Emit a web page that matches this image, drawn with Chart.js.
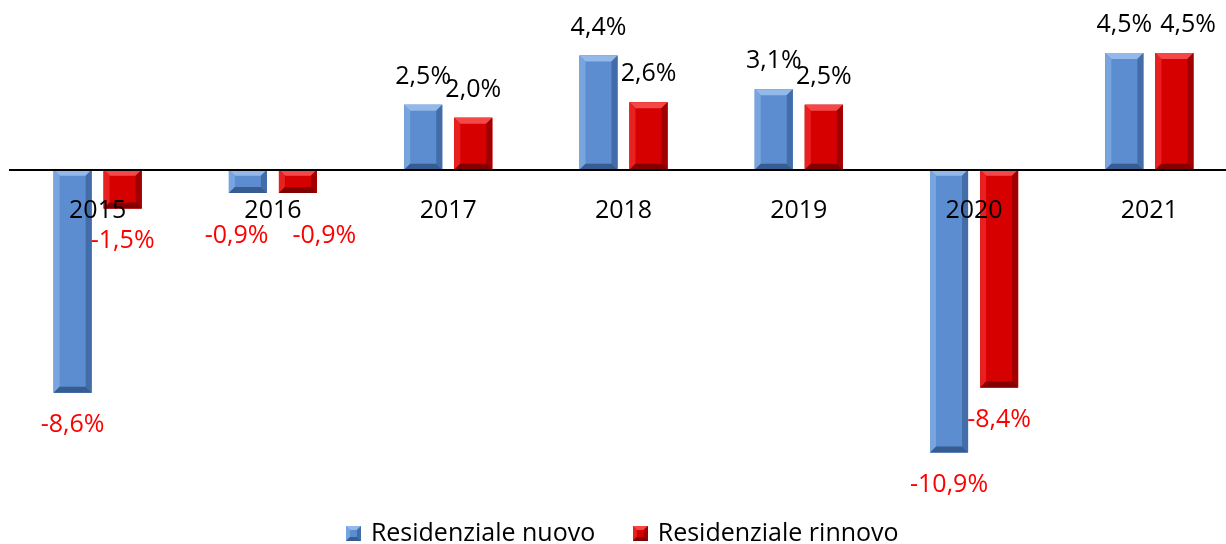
<!DOCTYPE html>
<html>
<head>
<meta charset="utf-8">
<script src="https://cdn.jsdelivr.net/npm/chart.js@4/dist/chart.umd.min.js"></script>
<style>
  html, body { margin: 0; padding: 0; background: #fff; overflow: hidden; }
  #wrap { width: 1226px; height: 544px; overflow: hidden; }
</style>
</head>
<body>
<div id="wrap"><canvas id="chart" width="1260" height="544"></canvas></div>
<script>
// chart data
const years = ['2015', '2016', '2017', '2018', '2019', '2020', '2021'];
const nuovo = [-8.6, -0.9, 2.5, 4.4, 3.1, -10.9, 4.5];
const rinnovo = [-1.5, -0.9, 2.0, 2.6, 2.5, -8.4, 4.5];
const seriesNames = ['Residenziale nuovo', 'Residenziale rinnovo'];

const FONT = '"Open Sans", "Noto Sans", sans-serif';

// colours for the bevelled bars: face, top, left, right, bottom
const blueTones = ['#5b8dd0', '#92b9e9', '#79a5de', '#426da8', '#365c92'];
const redTones = ['#d60000', '#f44848', '#e82020', '#a00000', '#820000'];

function fmt(v){
    return v.toFixed(1).replace('.', ',') + '%';
}

// small bevelled square used as legend marker
function legendBox(tones){
    const s = 15, b = 4;
    const c = document.createElement('canvas');
    c.width = s; c.height = s;
    const g = c.getContext('2d');
    bevel(g, 0, 0, s, s, b, tones);
    return c;
}

function poly(ctx, pts, color){
    ctx.beginPath();
    ctx.moveTo(pts[0][0], pts[0][1]);
    for (let i = 1; i < pts.length; i++) ctx.lineTo(pts[i][0], pts[i][1]);
    ctx.closePath();
    ctx.fillStyle = color;
    ctx.fill();
}

function bevel(ctx, l, t, r, bt, b, tones){
    poly(ctx, [[l,t],[r,t],[r,bt],[l,bt]], tones[0]);
    poly(ctx, [[l,t],[r,t],[r-b,t+b],[l+b,t+b]], tones[1]);
    poly(ctx, [[l,t],[l+b,t+b],[l+b,bt-b],[l,bt]], tones[2]);
    poly(ctx, [[r,t],[r,bt],[r-b,bt-b],[r-b,t+b]], tones[3]);
    poly(ctx, [[l,bt],[l+b,bt-b],[r-b,bt-b],[r,bt]], tones[4]);
}

// draws the bevel on top of each bar
const bevelBars = {
    id: 'bevelBars',
    afterDatasetsDraw(chart){
        const ctx = chart.ctx;
        ctx.save();
        chart.data.datasets.forEach((ds, i) => {
            const tones = i == 0 ? blueTones : redTones;
            chart.getDatasetMeta(i).data.forEach(bar => {
                const p = bar.getProps(['x', 'y', 'base', 'width'], true);
                const l = p.x - p.width / 2, r = p.x + p.width / 2;
                const t = Math.min(p.y, p.base), bt = Math.max(p.y, p.base);
                const b = Math.min(6, (bt - t) / 2);
                bevel(ctx, l, t, r, bt, b, tones);
            });
        });
        ctx.restore();
    }
};

// value labels: black above positive bars, red below negative ones
const valueLabels = {
    id: 'valueLabels',
    afterDraw(chart){
        const ctx = chart.ctx;
        const zero = chart.scales.y.getPixelForValue(0);
        ctx.save();
        ctx.font = '25px ' + FONT;
        ctx.textAlign = 'center';
        ctx.textBaseline = 'middle';
        const labels = [];
        chart.data.datasets.forEach((ds, i) => {
            chart.getDatasetMeta(i).data.forEach((bar, j) => {
                const p = bar.getProps(['x', 'y', 'base'], true);
                const v = ds.data[j];
                const text = fmt(v);
                let y;
                if (v >= 0) y = p.y - 28;
                else y = Math.max(p.y + 32, zero + 66);
                labels.push({ i, j, x: p.x, y, text, v, w: ctx.measureText(text).width });
            });
        });
        // push apart overlapping labels in the same year
        years.forEach((yr, j) => {
            const a = labels.find(o => o.i == 0 && o.j == j);
            const b = labels.find(o => o.i == 1 && o.j == j);
            if (a.v < 0 && b.v < 0 && Math.abs(a.y - b.y) < 24) {
                const need = (a.w + b.w) / 2 + 24 - (b.x - a.x);
                if (need > 0) { a.x -= need * 0.3; b.x += need * 0.7; }
            } else if (a.v >= 0 && b.v >= 0 && Math.abs(a.y - b.y) < 8) {
                const need = (a.w + b.w) / 2 + 8 - (b.x - a.x);
                if (need > 0) b.x += need;
            }
        });
        labels.forEach(o => {
            ctx.fillStyle = o.v < 0 ? '#ff0000' : '#000000';
            ctx.fillText(o.text, o.x, o.y);
        });
        ctx.restore();
    }
};

new Chart(document.getElementById('chart'), {
    type: 'bar',
    data: {
        labels: years,
        datasets: [
            {
                label: seriesNames[0],
                data: nuovo,
                backgroundColor: blueTones[0],
                pointStyle: legendBox(blueTones)
            },
            {
                label: seriesNames[1],
                data: rinnovo,
                backgroundColor: redTones[0],
                pointStyle: legendBox(redTones)
            }
        ]
    },
    options: {
        responsive: false,
        animation: false,
        categoryPercentage: 0.571,
        barPercentage: 0.76,
        layout: { padding: { left: 10, right: 23, top: 14, bottom: -12 } },
        scales: {
            x: {
                position: { y: 0 },
                grid: { display: false, drawTicks: false },
                border: { display: true, color: '#000', width: 2, z: 1 },
                ticks: { color: '#000', font: { family: FONT, size: 25 }, padding: 26, z: 1 }
            },
            y: {
                display: false,
                min: -12,
                max: 6
            }
        },
        plugins: {
            tooltip: { enabled: false },
            legend: {
                position: 'bottom',
                labels: {
                    usePointStyle: true,
                    pointStyleWidth: 10,
                    color: '#000',
                    font: { family: FONT, size: 25 },
                    padding: 40
                }
            }
        }
    },
    plugins: [bevelBars, valueLabels]
});
</script>
</body>
</html>
